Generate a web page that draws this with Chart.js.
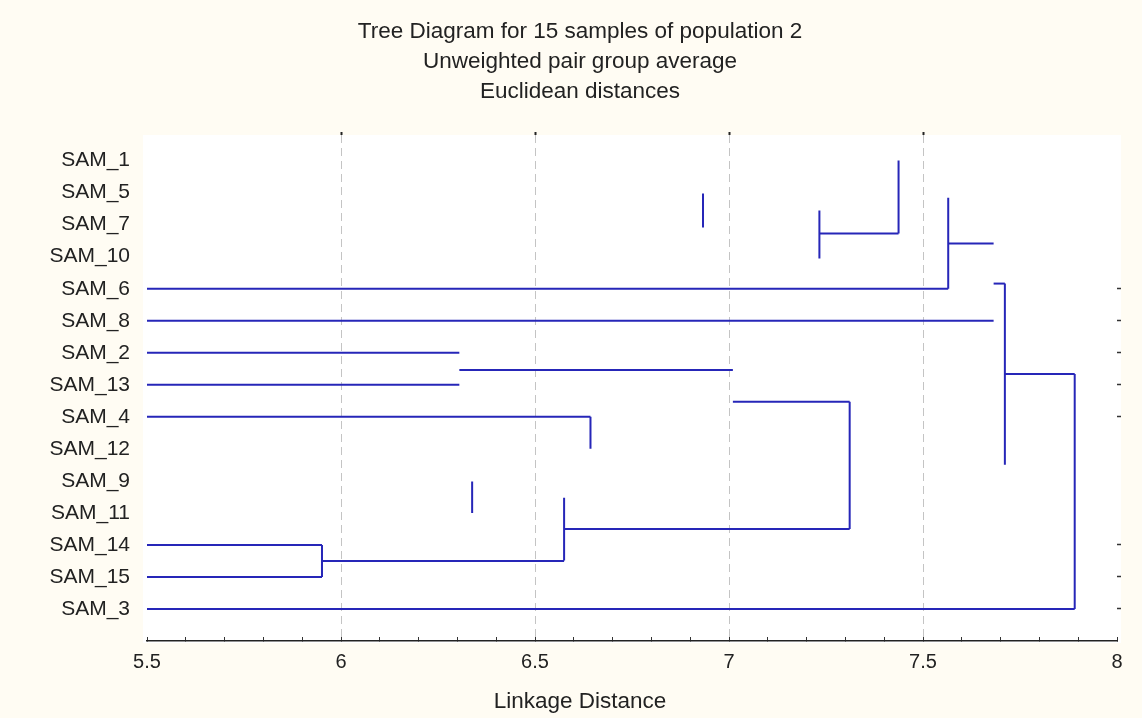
<!DOCTYPE html>
<html>
<head>
<meta charset="utf-8">
<script src="https://cdn.jsdelivr.net/npm/chart.js@4"></script>
<style>
  html, body { margin: 0; padding: 0; background: #FFFCF3; }
  #wrap { width: 1142px; height: 718px; }
</style>
</head>
<body>
<div id="wrap"><canvas id="c" width="1142" height="718"></canvas></div>
<script>
// ---- data ----
const samples = ['SAM_1','SAM_5','SAM_7','SAM_10','SAM_6','SAM_8','SAM_2','SAM_13','SAM_4','SAM_12','SAM_9','SAM_11','SAM_14','SAM_15','SAM_3'];
// leaf branches (horizontal, from the left edge)
const leafRows = [4, 5, 6, 7, 8, 12, 13, 14];
const leafDist = [7.565, 7.682, 6.305, 6.305, 6.643, 5.951, 5.951, 7.891];
// linking horizontals
const linkRows = [2.59, 2.28, 3.84, 6.66, 6.54, 7.53, 11.5, 12.5];
const linkFrom = [7.565, 7.233, 7.682, 7.711, 6.305, 7.010, 6.575, 5.951];
const linkTo   = [7.682, 7.437, 7.711, 7.891, 7.010, 7.311, 7.311, 6.575];
// vertical stems
const stemDist   = [7.565, 7.437, 7.233, 6.933, 7.711, 7.891, 7.311, 6.643, 6.338, 6.575, 5.951];
const stemTop    = [1.16, 0, 1.56, 1.03, 3.84, 6.66, 7.53, 8, 10.02, 10.53, 12];
const stemBottom = [4, 2.28, 3.06, 2.09, 9.5, 14, 11.5, 9, 11, 12.49, 13];
// axes
const xMin = 5.5, xMax = 8;
const xTickLabels = ['5.5', '6', '6.5', '7', '7.5', '8'];
const gridValues = [6, 6.5, 7, 7.5];
const rightTickRows = [4, 5, 6, 7, 8, 12, 13, 14];
const titleLines = ['Tree Diagram for 15 samples of population 2', 'Unweighted pair group average', 'Euclidean distances'];
const xTitle = 'Linkage Distance';

// ---- build datasets ----
const LINE = '#2626B8';
const datasets = [];
function seg(x1, y1, x2, y2) {
  datasets.push({ data: [{x: x1, y: y1}, {x: x2, y: y2}], showLine: true, borderColor: LINE, borderWidth: 2, pointRadius: 0, pointHoverRadius: 0, fill: false });
}
leafRows.forEach((r, i) => seg(xMin, r, leafDist[i], r));
linkRows.forEach((r, i) => seg(linkFrom[i], r, linkTo[i], r));
stemDist.forEach((d, i) => seg(d, stemTop[i], d, stemBottom[i]));

const minorTicks = [];
for (let i = 0; i <= 25; i++) minorTicks.push(+(xMin + i * 0.1).toFixed(1));

const FONT = "'Liberation Sans', Arial, sans-serif";

const bgPlugin = {
  id: 'bg',
  beforeDraw(chart) {
    const { ctx, chartArea: a } = chart;
    ctx.save();
    ctx.fillStyle = '#FFFCF3';
    ctx.fillRect(0, 0, chart.width, chart.height);
    ctx.fillStyle = '#FFFFFF';
    ctx.fillRect(a.left - 4, a.top, a.right - a.left + 8, a.bottom - a.top + 2);
    ctx.restore();
  }
};

new Chart(document.getElementById('c'), {
  type: 'scatter',
  data: { datasets },
  plugins: [bgPlugin],
  options: {
    responsive: false,
    animation: false,
    layout: { padding: { left: 18, right: 0, top: 0, bottom: 0 } },
    plugins: {
      legend: { display: false },
      tooltip: { enabled: false },
      title: {
        display: true, text: titleLines, color: '#222',
        font: { family: FONT, size: 22.5, weight: 'normal', lineHeight: 1.333 },
        padding: { top: 17, bottom: 25 }
      },
      subtitle: {
        display: true, text: xTitle, position: 'bottom', color: '#222',
        font: { family: FONT, size: 22.5, weight: 'normal', lineHeight: 1.2 },
        padding: { top: 1, bottom: 3 }
      }
    },
    scales: {
      x: {
        type: 'linear', position: 'bottom', min: xMin, max: xMax,
        afterBuildTicks: (s) => { s.ticks = minorTicks.map(v => ({ value: v })); },
        ticks: {
          autoSkip: false, maxRotation: 0, padding: 13, color: '#222',
          font: { family: FONT, size: 20 },
          callback: (v) => xTickLabels.includes(String(v)) ? String(v) : ''
        },
        grid: { drawOnChartArea: false, drawTicks: true, tickLength: -4, tickColor: '#333', tickWidth: 1 },
        border: { display: true, color: '#222', width: 1.5 }
      },
      x2: {
        type: 'linear', position: 'top', min: xMin, max: xMax,
        afterBuildTicks: (s) => { s.ticks = gridValues.map(v => ({ value: v })); },
        ticks: { display: false },
        grid: { display: true, drawOnChartArea: true, color: '#C4C4C4', lineWidth: 1, drawTicks: true, tickLength: 3, tickColor: '#222', tickWidth: 2 },
        border: { display: false, dash: [8, 5] }
      },
      y: {
        type: 'linear', position: 'left', min: -0.8, max: 15, reverse: true,
        afterBuildTicks: (s) => { s.ticks = samples.map((_, i) => ({ value: i })); },
        afterFit: (s) => { s.width = 129; },
        ticks: {
          autoSkip: false, padding: 17, color: '#222',
          font: { family: FONT, size: 21 },
          callback: (v) => samples[v] !== undefined ? samples[v] : ''
        },
        grid: { display: false, drawTicks: false },
        border: { display: false }
      },
      y2: {
        type: 'linear', position: 'right', min: -0.8, max: 15, reverse: true,
        afterBuildTicks: (s) => { s.ticks = rightTickRows.map(v => ({ value: v })); },
        afterFit: (s) => { s.width = 25; },
        ticks: { display: false },
        grid: { display: true, drawOnChartArea: false, drawTicks: true, tickLength: 4, tickColor: '#333', tickWidth: 1.5 },
        border: { display: false }
      }
    }
  }
});
</script>
</body>
</html>
